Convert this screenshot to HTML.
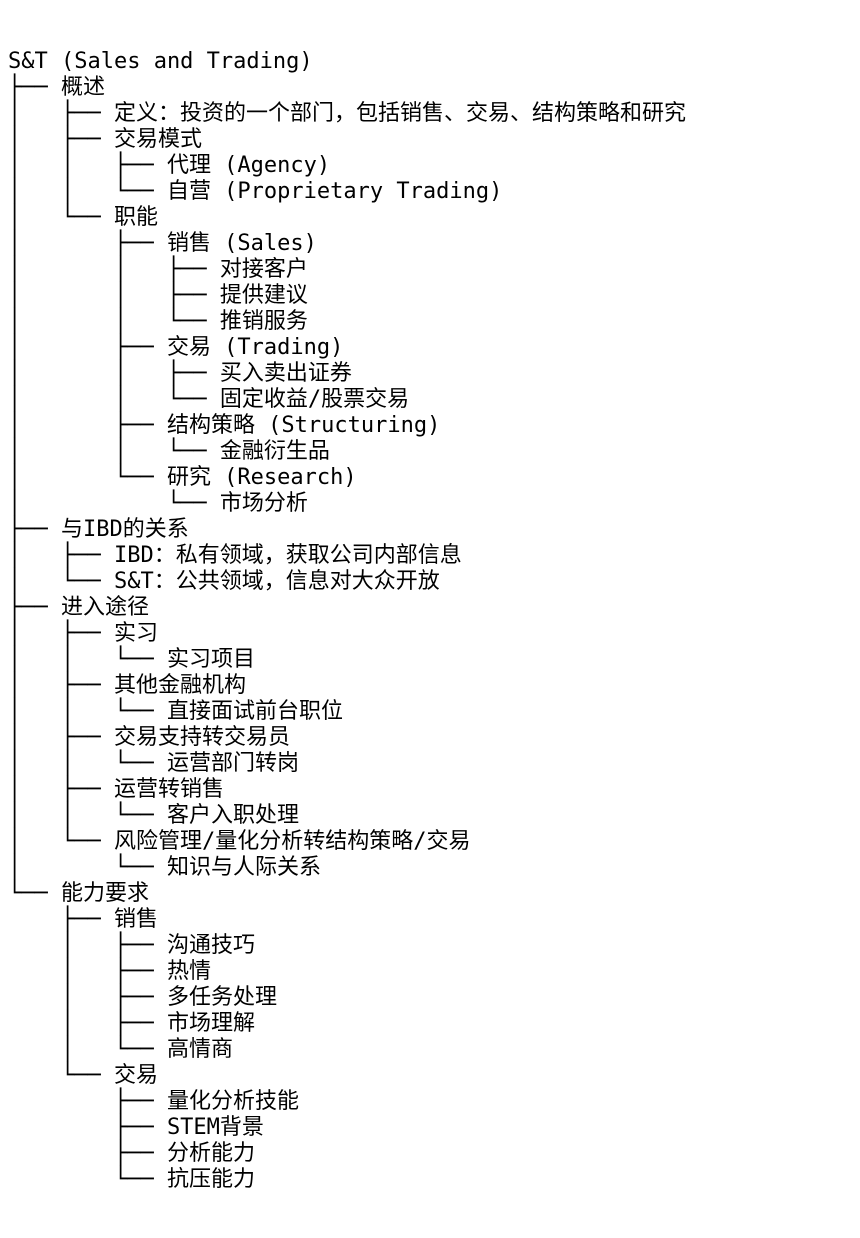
<!DOCTYPE html>
<html><head><meta charset="utf-8">
<style>
html,body{margin:0;padding:0;background:#fff;}
body{width:860px;height:1238px;overflow:hidden;}
pre{margin:0;padding:49px 0 0 8px;font-family:"DejaVu Sans Mono","Noto Sans CJK SC",monospace;font-size:22px;line-height:26px;color:#000;}
</style></head><body>
<pre>S&amp;T (Sales and Trading)
├── 概述
│   ├── 定义：投资的一个部门，包括销售、交易、结构策略和研究
│   ├── 交易模式
│   │   ├── 代理 (Agency)
│   │   └── 自营 (Proprietary Trading)
│   └── 职能
│       ├── 销售 (Sales)
│       │   ├── 对接客户
│       │   ├── 提供建议
│       │   └── 推销服务
│       ├── 交易 (Trading)
│       │   ├── 买入卖出证券
│       │   └── 固定收益/股票交易
│       ├── 结构策略 (Structuring)
│       │   └── 金融衍生品
│       └── 研究 (Research)
│           └── 市场分析
├── 与IBD的关系
│   ├── IBD：私有领域，获取公司内部信息
│   └── S&amp;T：公共领域，信息对大众开放
├── 进入途径
│   ├── 实习
│   │   └── 实习项目
│   ├── 其他金融机构
│   │   └── 直接面试前台职位
│   ├── 交易支持转交易员
│   │   └── 运营部门转岗
│   ├── 运营转销售
│   │   └── 客户入职处理
│   └── 风险管理/量化分析转结构策略/交易
│       └── 知识与人际关系
└── 能力要求
    ├── 销售
    │   ├── 沟通技巧
    │   ├── 热情
    │   ├── 多任务处理
    │   ├── 市场理解
    │   └── 高情商
    └── 交易
        ├── 量化分析技能
        ├── STEM背景
        ├── 分析能力
        └── 抗压能力</pre>
</body></html>
